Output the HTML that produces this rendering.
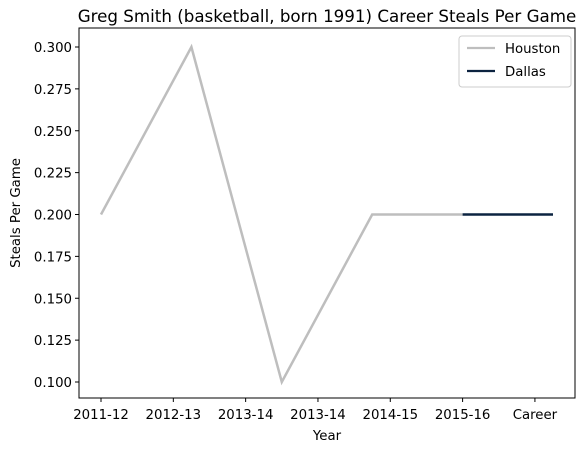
<!DOCTYPE html>
<html><head><meta charset="utf-8">
<style>
body{margin:0;background:#fff;}
svg text{font-family:"DejaVu Sans","Liberation Sans",sans-serif;fill:#000;}
</style></head>
<body>
<svg id="chart" width="588" height="453" xmlns="http://www.w3.org/2000/svg">
<rect width="588" height="453" fill="#fff"/>
<text x="327" y="22" font-size="16.7" text-anchor="middle">Greg Smith (basketball, born 1991) Career Steals Per Game</text>
<g id="grid"></g>
<g id="series"></g>
<rect x="79" y="28" width="496" height="370" fill="none" stroke="#000" stroke-width="1"/>
<g id="xaxis"></g>
<g id="yaxis"></g>
<text x="327" y="440" font-size="13.3" text-anchor="middle">Year</text>
<text transform="translate(20,213) rotate(-90)" font-size="13.3" text-anchor="middle">Steals Per Game</text>
<g>
<rect x="459" y="36" width="112" height="51" rx="3" fill="#fff" stroke="#ccc"/>
<line x1="467" y1="48" x2="495" y2="48" stroke="#bebebe" stroke-width="2.2"/>
<text x="505" y="53" font-size="13.3">Houston</text>
<line x1="467" y1="71" x2="495" y2="71" stroke="#0c2340" stroke-width="2.2"/>
<text x="505" y="76" font-size="13.3">Dallas</text>
</g>
</svg>
<script>
const xTickLabels=["2011-12","2012-13","2013-14","2013-14","2014-15","2015-16","Career"];
const xTickPos=[0,0.8,1.6,2.4,3.2,4.0,4.8];
const yTicks=[0.100,0.125,0.150,0.175,0.200,0.225,0.250,0.275,0.300];
const houstonX=[0,1,2,3,4];
const houstonY=[0.2,0.3,0.1,0.2,0.2];
const dallasX=[4,5];
const dallasY=[0.2,0.2];
const NS="http://www.w3.org/2000/svg";
function xs(v){return 101+v*90.4;}
function ys(v){return 382-(v-0.1)*1675;}
const xa=document.getElementById('xaxis'),ya=document.getElementById('yaxis'),sg=document.getElementById('series');
xTickPos.forEach((p,i)=>{
 const l=document.createElementNS(NS,'line');
 
 
 l.setAttribute('x1',xs(p));l.setAttribute('x2',xs(p));l.setAttribute('y1',398);l.setAttribute('y2',402);l.setAttribute('stroke','#000');
 xa.appendChild(l);
 const t=document.createElementNS(NS,'text');
 
 
 t.setAttribute('x',xs(p));t.setAttribute('y',419);t.setAttribute('font-size','13.3');t.setAttribute('text-anchor','middle');
 t.textContent=xTickLabels[i];xa.appendChild(t);
});
yTicks.forEach(v=>{
 const l=document.createElementNS(NS,'line');
 
 
 l.setAttribute('x1',75);l.setAttribute('x2',79);l.setAttribute('y1',ys(v));l.setAttribute('y2',ys(v));l.setAttribute('stroke','#000');
 ya.appendChild(l);
 const t=document.createElementNS(NS,'text');
 
 
 t.setAttribute('x',72);t.setAttribute('y',ys(v)+5);t.setAttribute('font-size','13.3');t.setAttribute('text-anchor','end');
 t.textContent=v.toFixed(3);ya.appendChild(t);
});
function line(xv,yv,color,name){
 const p=document.createElementNS(NS,'polyline');
 
 
 p.setAttribute('points',xv.map((x,i)=>xs(x)+','+ys(yv[i])).join(' '));
 p.setAttribute('fill','none');p.setAttribute('stroke',color);p.setAttribute('stroke-width','2.5');
 sg.appendChild(p);
}
line(houstonX,houstonY,'#bebebe','houston-line');
line(dallasX,dallasY,'#0c2340','dallas-line');
</script>
</body></html>
